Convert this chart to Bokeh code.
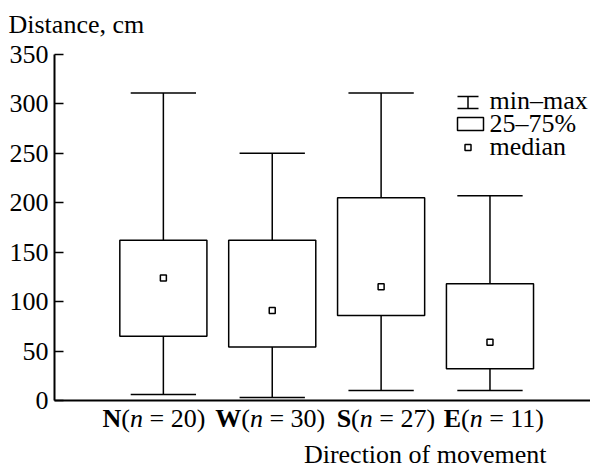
from bokeh.plotting import figure
from bokeh.models import Range1d, Label, FixedTicker, ColumnDataSource, LinearAxis
from bokeh.embed import file_html
from bokeh.resources import INLINE

# ---- data ----
groups = ["N", "W", "S", "E"]
counts = [20, 30, 27, 11]
mins = [6, 3, 10, 10]
q1 = [65, 54, 86, 32]
medians = [124, 91, 115, 59]
q3 = [162, 162, 205, 118]
maxs = [311, 250, 311, 207]
y_ticks = [0, 50, 100, 150, 200, 250, 300, 350]
legend_labels = ["min\u2013max", "25\u201375%", "median"]
y_title = "Distance, cm"
x_title = "Direction of movement"

# ---- layout (page pixels -> data) ----
FONT = "Liberation Serif"
FS = 26
W, H = 590, 468
X0_PX, XS = 54, 108.87          # x=0 at page px 54, px per category
Y0_PX, YS = 400, 346 / 350      # y=0 at page px 400, px per unit
Y_TOP = 350
X_AX_END = (W - X0_PX) / XS
TEXT_DY = 8                     # baseline correction for rendered text


def dx(px):
    return (px - X0_PX) / XS


def dy(py):
    return (Y0_PX - py) / YS


def ty(baseline_px):
    return dy(baseline_px - TEXT_DY)


p = figure(width=W, height=H, output_backend="svg", toolbar_location=None,
           title=None, x_range=Range1d(dx(0), dx(W)), y_range=Range1d(dy(H), dy(0)),
           x_axis_location=None, y_axis_location=None,
           min_border_left=0, min_border_right=0, min_border_top=0,
           min_border_bottom=0)
p.outline_line_color = None
p.xgrid.visible = False
p.ygrid.visible = False
p.background_fill_color = "white"
p.border_fill_color = "white"

yax = LinearAxis(fixed_location=0, bounds=(0, Y_TOP),
                 ticker=FixedTicker(ticks=y_ticks))
yax.major_tick_in = 9
yax.major_tick_out = 0
yax.minor_tick_in = 0
yax.minor_tick_out = 0
yax.major_label_standoff = 6
yax.major_label_text_font = FONT
yax.major_label_text_font_size = f"{FS}px"
yax.major_label_text_color = "black"
yax.axis_line_width = 2
yax.axis_line_color = "black"
yax.major_tick_line_width = 1.5
yax.major_tick_line_color = "black"
p.add_layout(yax, "left")

xax = LinearAxis(fixed_location=0, bounds=(0, X_AX_END),
                 ticker=FixedTicker(ticks=[]))
xax.major_tick_in = 0
xax.major_tick_out = 0
xax.minor_tick_in = 0
xax.minor_tick_out = 0
xax.axis_line_width = 2
xax.axis_line_color = "black"
p.add_layout(xax, "below")

xs = [i + 1 for i in range(len(groups))]
BOX_W = 0.8
CAP_W = 0.6
src = ColumnDataSource(dict(
    x=xs, mins=mins, q1=q1, med=medians, q3=q3, maxs=maxs,
    cl=[x - CAP_W / 2 for x in xs], cr=[x + CAP_W / 2 for x in xs],
))

p.segment(x0="x", y0="mins", x1="x", y1="maxs", source=src,
          line_color="black", line_width=1.5)
p.segment(x0="cl", y0="maxs", x1="cr", y1="maxs", source=src,
          line_color="black", line_width=1.5)
p.segment(x0="cl", y0="mins", x1="cr", y1="mins", source=src,
          line_color="black", line_width=1.5)
p.vbar(x="x", width=BOX_W, bottom="q1", top="q3", source=src,
       fill_color="white", line_color="black", line_width=1.5)
p.scatter(x="x", y="med", source=src, marker="square", size=6,
          fill_color="white", line_color="black", line_width=1.5)

# ---- category labels: bold letter + (italic n = count) ----
label_shift = [-42, -31, -30, -29]
w_paren = 0.333 * FS
w_n = 0.5 * FS
y_lab = ty(426)
for i, (g, n) in enumerate(zip(groups, counts)):
    base = dict(x=xs[i], y=y_lab, text_font=FONT, text_font_size=f"{FS}px",
                text_color="black", text_baseline="alphabetic")
    s = label_shift[i]
    p.add_layout(Label(text=g, text_align="right", x_offset=s,
                       text_font_style="bold", **base))
    p.add_layout(Label(text="(", text_align="left", x_offset=s, **base))
    p.add_layout(Label(text="n", text_align="left", x_offset=s + w_paren,
                       text_font_style="italic", **base))
    p.add_layout(Label(text=f"\u00a0= {n})", text_align="left",
                       x_offset=s + w_paren + w_n, **base))

# ---- axis titles ----
p.add_layout(Label(x=dx(8), y=ty(32), text=y_title, text_font=FONT,
                   text_font_size=f"{FS}px", text_color="black",
                   text_align="left", text_baseline="alphabetic"))
p.add_layout(Label(x=dx(546), y=ty(462), text=x_title, text_font=FONT,
                   text_font_size=f"{FS}px", text_color="black",
                   text_align="right", text_baseline="alphabetic"))

# ---- legend ----
lx0, lx1, lxc = dx(457), dx(478), dx(467.5)
p.segment(x0=[lx0, lx0, lxc], y0=[dy(96), dy(108), dy(96)],
          x1=[lx1, lx1, lxc], y1=[dy(96), dy(108), dy(108)],
          line_color="black", line_width=1.5)
p.quad(left=[dx(457)], right=[dx(483)], top=[dy(117)], bottom=[dy(130)],
       fill_color="white", line_color="black", line_width=1.5)
p.scatter(x=[lxc], y=[dy(147)], marker="square", size=6,
          fill_color="white", line_color="black", line_width=1.5)
for txt, by in zip(legend_labels, [108, 131, 154]):
    p.add_layout(Label(x=dx(489), y=ty(by), text=txt, text_font=FONT,
                       text_font_size=f"{FS}px", text_color="black",
                       text_align="left", text_baseline="alphabetic"))

open("out.html", "w").write(file_html(p, INLINE))
